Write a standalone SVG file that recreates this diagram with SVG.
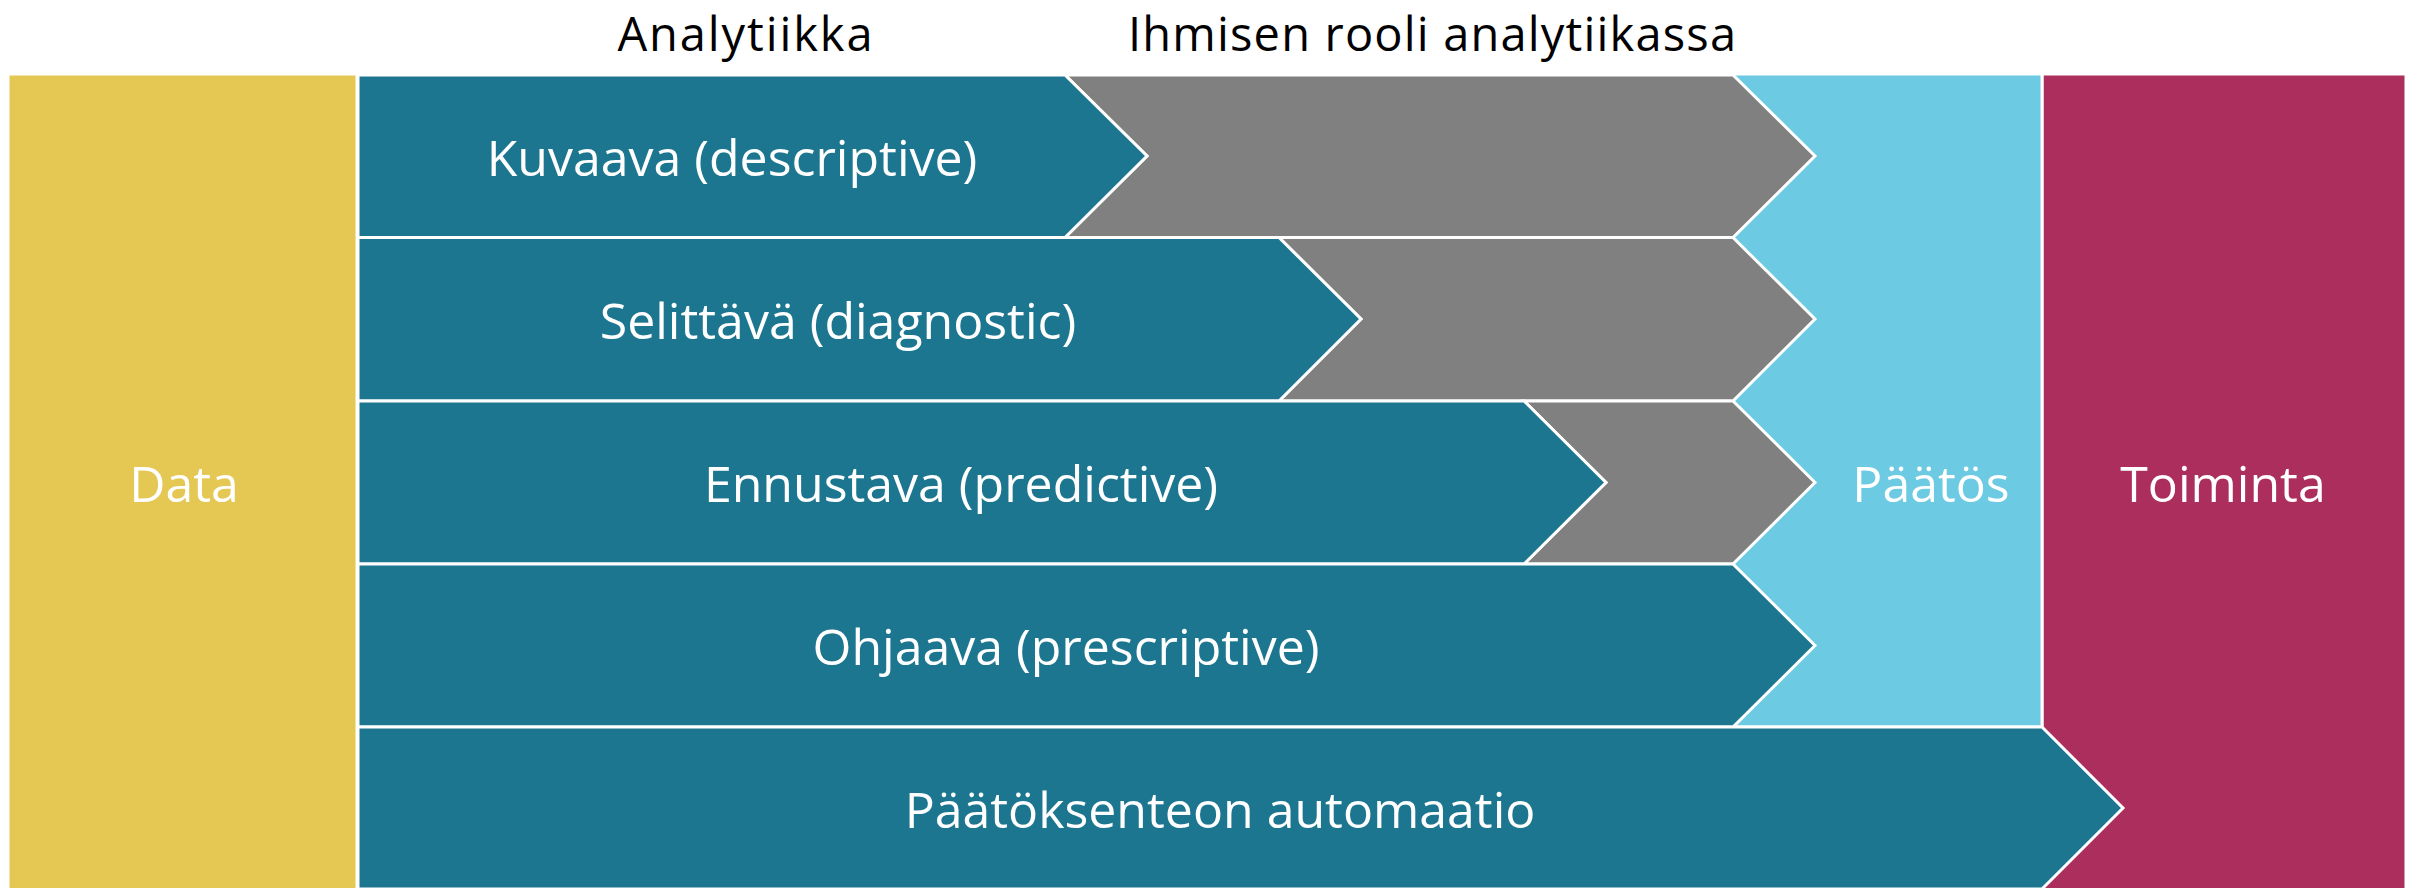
<svg xmlns="http://www.w3.org/2000/svg" width="2423" height="888" viewBox="0 0 2423 888">
  <style>
    .shape { stroke: #ffffff; stroke-width: 3; stroke-linejoin: miter; }
    .teal { fill: #1d768f; }
    .grey { fill: #808080; }
    .lblue { fill: #6ccae2; }
    .red { fill: #ab2e5c; }
    .yellow { fill: #e4c853; }
    text { font-family: "Open Sans", "Liberation Sans", sans-serif; font-size: 50px; text-anchor: middle; }
    .title { font-size: 47px; }
    .w { fill: #ffffff; }
    .b { fill: #000000; }
  </style>
  <rect width="2423" height="888" fill="#ffffff"/>

  <g id="titles">
    <text class="b title" x="745" y="51" textLength="255" lengthAdjust="spacing">Analytiikka</text>
    <text class="b title" x="1432" y="51" textLength="608" lengthAdjust="spacing">Ihmisen rooli analytiikassa</text>
  </g>

  <g id="data">
    <rect class="shape yellow" x="8" y="74" width="349" height="816"/>
    <text class="w" x="184" y="502">Data</text>
  </g>

  <g id="toiminta">
    <rect class="shape red" x="2042" y="74" width="364" height="816"/>
    <text class="w" x="2223" y="502">Toiminta</text>
  </g>

  <g id="paatos">
    <rect class="shape lblue" x="1733" y="74" width="309" height="653"/>
    <text class="w" x="1931" y="502">Päätös</text>
  </g>

  <g id="human-role">
    <polygon class="shape grey" points="1065,75 1733,75 1815,156 1733,237.5 1065,237.5 1147,156"/>
    <polygon class="shape grey" points="1279,237.5 1733,237.5 1815,319 1733,401 1279,401 1361,319"/>
    <polygon class="shape grey" points="1524,401 1733,401 1815,482.5 1733,564 1524,564 1606,482.5"/>
  </g>

  <g id="kuvaava">
    <polygon class="shape teal" points="358,75 1065,75 1147,156 1065,237.5 358,237.5"/>
    <text class="w" x="732" y="176">Kuvaava (descriptive)</text>
  </g>

  <g id="selittava">
    <polygon class="shape teal" points="358,237.5 1279,237.5 1361,319 1279,401 358,401"/>
    <text class="w" x="838" y="339">Selittävä (diagnostic)</text>
  </g>

  <g id="ennustava">
    <polygon class="shape teal" points="358,401 1524,401 1606,482.5 1524,564 358,564"/>
    <text class="w" x="961" y="502">Ennustava (predictive)</text>
  </g>

  <g id="ohjaava">
    <polygon class="shape teal" points="358,564 1733,564 1815,645.5 1733,727 358,727"/>
    <text class="w" x="1066" y="665">Ohjaava (prescriptive)</text>
  </g>

  <g id="automaatio">
    <polygon class="shape teal" points="358,727 2042,727 2123,808 2042,889 358,889"/>
    <text class="w" x="1220" y="828">Päätöksenteon automaatio</text>
  </g>

  <g id="connectors"></g>
</svg>
